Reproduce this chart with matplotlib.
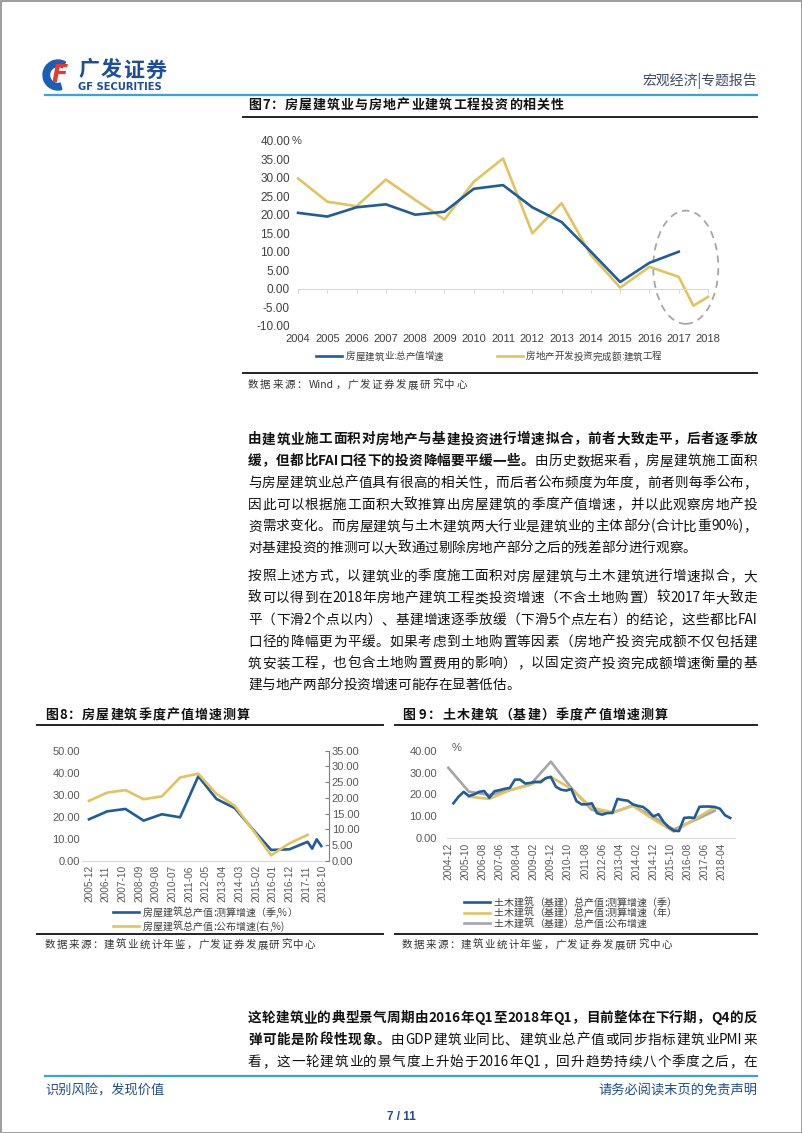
import matplotlib
matplotlib.use('Agg')
import matplotlib.pyplot as plt
from matplotlib.patches import Ellipse, Rectangle, Wedge
from matplotlib.font_manager import FontProperties, findfont, get_font

CJK = 'Noto Sans CJK SC'
LAT = 'Liberation Sans'
plt.rcParams['font.family'] = [LAT, CJK, 'DejaVu Sans']

W, H = 802, 1133
BLUE = '#1F5C99'
YEL = '#E3C35E'
GREY = '#A6A6A6'
TICK = '#595959'
LBLUE = '#3AA3DA'
DBLUE = '#1F4E8C'

# ---- fig 7: annual growth, %
years7 = [2004, 2005, 2006, 2007, 2008, 2009, 2010, 2011, 2012, 2013, 2014, 2015, 2016, 2017]
house_output7 = [20.5, 19.5, 22.0, 22.8, 20.0, 20.8, 27.0, 28.0, 22.0, 18.0, 10.0, 1.8, 7.0, 10.0]
re_years7 = [2004, 2005, 2006, 2007, 2008, 2009, 2010, 2011, 2012, 2013, 2014, 2015, 2016, 2017, 2017.5, 2018]
re_build7 = [29.8, 23.5, 22.3, 29.5, 24.0, 18.7, 28.9, 35.2, 15.0, 23.1, 9.1, 0.3, 5.9, 3.2, -4.6, -2.2]
xlabels7 = [2004, 2005, 2006, 2007, 2008, 2009, 2010, 2011, 2012, 2013, 2014, 2015, 2016, 2017, 2018]
legend7 = ['房屋建筑业:总产值增速', '房地产开发投资完成额:建筑工程']

# ---- fig 8: house building output
house_q_dates = ['2005-12', '2006-12', '2007-12', '2008-12', '2009-12', '2010-12', '2011-12', '2012-12',
                 '2013-12', '2014-12', '2015-12', '2016-12', '2017-12', '2018-03', '2018-06', '2018-09']
house_q = [18.9, 22.5, 23.6, 18.3, 21.2, 19.8, 38.4, 28.1, 24.0, 14.3, 5.0, 5.3, 8.7, 5.6, 9.8, 6.8]
house_pub_dates = ['2005-12', '2006-12', '2007-12', '2008-12', '2009-12', '2010-12', '2011-12', '2012-12',
                   '2013-12', '2014-12', '2015-12', '2016-12', '2017-12']
house_pub = [19.1, 21.7, 22.5, 19.6, 20.5, 26.5, 27.7, 21.3, 17.5, 9.8, 1.8, 5.6, 8.3]
xlabels8 = ['2005-12', '2006-11', '2007-10', '2008-09', '2009-08', '2010-07', '2011-06', '2012-05',
            '2013-04', '2014-03', '2015-02', '2016-01', '2016-12', '2017-11', '2018-10']
legend8 = ['房屋建筑总产值:测算增速（季,%）', '房屋建筑总产值:公布增速(右,%)']

# ---- fig 9: civil engineering output
civil_q_dates = [f'{y}-{m:02d}' for y in range(2005, 2019) for m in (3, 6, 9, 12)][:55]
civil_q = [16.0, 19.0, 21.2, 19.3, 20.0, 21.2, 21.6, 18.5, 21.5, 22.0, 22.6, 23.0,
           26.8, 26.8, 25.0, 25.3, 25.8, 25.6, 27.5, 28.0, 23.5, 22.2, 21.8, 22.5,
           17.0, 15.5, 15.5, 16.0, 11.5, 10.8, 11.5, 11.6, 18.0, 17.5, 17.2, 15.5,
           14.8, 14.3, 12.5, 10.0, 11.0, 7.5, 5.0, 3.5, 3.3, 9.3, 9.5, 9.3,
           14.4, 14.5, 14.5, 14.3, 13.5, 10.5, 9.3]
civil_y_dates = ['2005-12', '2006-12', '2007-12', '2008-12', '2009-12', '2010-12', '2011-12',
                 '2012-12', '2013-12', '2014-12', '2015-12', '2016-12', '2017-12']
civil_y = [19.0, 18.0, 22.0, 24.5, 28.1, 22.5, 14.0, 11.9, 14.8, 8.7, 3.0, 8.7, 14.1]
civil_pub_dates = ['2004-12', '2005-12', '2006-12', '2007-12', '2008-12', '2009-12', '2010-12',
                   '2011-12', '2012-12', '2013-12', '2014-12', '2015-12', '2016-12', '2017-12']
civil_pub = [32.2, 21.3, 19.8, 22.0, 24.5, 35.0, 23.0, 13.0, 11.6, 15.0, 9.8, 4.0, 8.2, 12.6]
xlabels9 = ['2004-12', '2005-10', '2006-08', '2007-06', '2008-04', '2009-02', '2009-12', '2010-10',
            '2011-08', '2012-06', '2013-04', '2014-02', '2014-12', '2015-10', '2016-08', '2017-06', '2018-04']
legend9 = ['土木建筑（基建）总产值:测算增速（季）', '土木建筑（基建）总产值:测算增速（年）',
           '土木建筑（基建）总产值:公布增速']

# ---- page text
B, R = 'bold', 'normal'
para1 = [
    [('由建筑业施工面积对房地产与基建投资进行增速拟合，前者大致走平，后者逐季放', B)],
    [('缓，但都比FAI口径下的投资降幅要平缓一些。', B), ('由历史数据来看，房屋建筑施工面积', R)],
    [('与房屋建筑业总产值具有很高的相关性，而后者公布频度为年度，前者则每季公布，', R)],
    [('因此可以根据施工面积大致推算出房屋建筑的季度产值增速，并以此观察房地产投', R)],
    [('资需求变化。而房屋建筑与土木建筑两大行业是建筑业的主体部分(合计比重90%)，', R)],
    [('对基建投资的推测可以大致通过剔除房地产部分之后的残差部分进行观察。', R)],
]
para2 = [
    [('按照上述方式，以建筑业的季度施工面积对房屋建筑与土木建筑进行增速拟合，大', R)],
    [('致可以得到在2018年房地产建筑工程类投资增速（不含土地购置）较2017年大致走', R)],
    [('平（下滑2个点以内）、基建增速逐季放缓（下滑5个点左右）的结论，这些都比FAI', R)],
    [('口径的降幅更为平缓。如果考虑到土地购置等因素（房地产投资完成额不仅包括建', R)],
    [('筑安装工程，也包含土地购置费用的影响），以固定资产投资完成额增速衡量的基', R)],
    [('建与地产两部分投资增速可能存在显著低估。', R)],
]
para3 = [
    [('这轮建筑业的典型景气周期由2016年Q1至2018年Q1，目前整体在下行期，Q4的反', B)],
    [('弹可能是阶段性现象。', B), ('由GDP建筑业同比、建筑业总产值或同步指标建筑业PMI来', R)],
    [('看，这一轮建筑业的景气度上升始于2016年Q1，回升趋势持续八个季度之后，在', R)],
]


def month_idx(dates, start):
    y0, m0 = map(int, start.split('-'))
    out = []
    for d in dates:
        y, m = map(int, d.split('-'))
        out.append((y - y0) * 12 + (m - m0))
    return out


fig = plt.figure(figsize=(W / 100, H / 100), dpi=100)
bg = fig.add_axes([0, 0, 1, 1])
bg.set_xlim(0, W)
bg.set_ylim(H, 0)
bg.axis('off')


def px_rect(l, t, r, b):
    return [l / W, 1 - b / H, (r - l) / W, (b - t) / H]


def advances(s, weight, size):
    font = get_font(findfont(FontProperties(family=CJK, weight=weight)))
    font.set_size(size * 0.72, 100)
    return [font.load_char(ord(c)).linearHoriAdvance / 65536 for c in s]


def put_line(segs, x0, yc, size, x1=None, color='#111111'):
    # group ascii runs into one token so latin words are not spread out
    toks = []
    for s, w in segs:
        for c, a in zip(s, advances(s, w, size)):
            if c.isascii() and toks and toks[-1][0][-1].isascii() and toks[-1][1] == w:
                toks[-1] = (toks[-1][0] + c, w, toks[-1][2] + a)
            else:
                toks.append((c, w, a))
    extra = 0.0
    if x1 is not None and len(toks) > 1:
        extra = (x1 - x0 - sum(t[2] for t in toks)) / (len(toks) - 1)
    x = x0
    for t, w, a in toks:
        if t.strip():
            bg.text(x, yc + 0.36 * size, t, fontsize=size * 0.72, fontweight=w, color=color,
                    family=[CJK, 'DejaVu Sans'], ha='left', va='baseline')
        x += a + extra


def put_para(lines, x0, x1, y0, step, size=13.6, last_full=False):
    for i, segs in enumerate(lines):
        full = last_full or i < len(lines) - 1
        put_line(segs, x0, y0 + i * step, size, x1 if full else None)


# page frame
bg.add_patch(Rectangle((0.5, 0.5), W - 1, H - 1, fill=False, ec='#8C8C8C', lw=1.2))

# header
bg.add_patch(Wedge((58, 75), 15, 75, 300, width=6.5, color='#1B5FB5'))
bg.text(60, 82, 'F', fontsize=17, fontweight='bold', style='italic', color='#E8392B',
        family='DejaVu Sans', ha='center', va='baseline')
put_line([('广发证券', B)], 78, 69, 21, 166, color='#1B4F9C')
bg.text(78, 90.5, 'GF SECURITIES', fontsize=7.2, fontweight='bold', color='#1B4F9C',
        family='DejaVu Sans', ha='left', va='baseline')
bg.text(757, 85, '宏观经济|专题报告', fontsize=10, color='#3C4A66', family=[CJK], ha='right', va='baseline')
bg.plot([45, 757], [95, 95], color=LBLUE, lw=1.6)

# figure 7 block
put_line([('图7：房屋建筑业与房地产业建筑工程投资的相关性', B)], 248, 104, 13, 564)
bg.plot([243, 757], [117, 117], color='#222222', lw=1.4)

ax7 = fig.add_axes(px_rect(295.1, 140.7, 713.9, 325.7))
ax7.patch.set_alpha(0)
ax7.plot(re_years7, re_build7, color=YEL, lw=1.9, zorder=2)
ax7.plot(years7, house_output7, color=BLUE, lw=1.9, zorder=3)
ax7.add_patch(Ellipse((2017.24, 5.8), 2.22, 30.6, fill=False, ls=(0, (4, 3)), ec=GREY, lw=1.3, clip_on=False))
ax7.set_xlim(2003.9, 2018.2)
ax7.set_ylim(-10, 40)
for s in ('top', 'right', 'left'):
    ax7.spines[s].set_visible(False)
ax7.spines['bottom'].set_position(('data', 0))
ax7.spines['bottom'].set_color('#D9D9D9')
ax7.spines['bottom'].set_bounds(2004, 2018)
ax7.set_xticks(xlabels7)
ax7.set_xticklabels([str(v) for v in xlabels7])
ax7.set_yticks(range(-10, 45, 5))
ax7.set_yticklabels([f'{v:.2f}' for v in range(-10, 45, 5)])
ax7.tick_params(axis='x', length=3, color='#D9D9D9', pad=29.5, labelsize=8, labelcolor='#404040')
ax7.tick_params(axis='y', length=0, pad=3.7, labelsize=8.5, labelcolor='#404040')
bg.text(292, 141, '%', fontsize=8, color='#404040', ha='left', va='center')

bg.plot([316, 342], [356, 356], color=BLUE, lw=1.9)
put_line([(legend7[0], R)], 346, 356, 9.5, color='#404040')
bg.plot([497, 523], [356, 356], color=YEL, lw=1.9)
put_line([(legend7[1], R)], 526, 356, 9.5, color='#404040')

bg.plot([243, 757], [373, 373], color='#222222', lw=1.4)
put_line([('数据来源：Wind，广发证券发展研究中心', R)], 248, 384, 10.5, 467, color='#333333')

# body text
put_para(para1, 248, 757, 438.5, 21.75)
put_para(para2, 248, 757, 575.5, 21.75)

# figure 8 block
put_line([('图8：房屋建筑季度产值增速测算', B)], 45, 714, 13, 250)
bg.plot([37, 383], [725, 725], color='#222222', lw=1.4)

ax8 = fig.add_axes(px_rect(82, 750.7, 329, 861))
ax8.patch.set_alpha(0)
ax8.plot(month_idx(house_q_dates, '2005-12'), house_q, color=BLUE, lw=1.9)
ax8.set_xlim(-4.6, 158.1)
ax8.set_ylim(0, 50)
ax8r = ax8.twinx()
ax8r.plot(month_idx(house_pub_dates, '2005-12'), house_pub, color=YEL, lw=1.9)
ax8r.set_ylim(0, 35)
for s in ('top', 'right', 'left'):
    ax8.spines[s].set_visible(False)
for s in ('top', 'left', 'bottom'):
    ax8r.spines[s].set_visible(False)
ax8.spines['bottom'].set_color('#D9D9D9')
ax8r.spines['right'].set_color('#7F7F7F')
ax8r.spines['right'].set_linewidth(0.8)
ax8.set_xticks(month_idx(xlabels8, '2005-12'))
ax8.set_xticklabels(xlabels8, rotation=90)
ax8.set_yticks(range(0, 60, 10))
ax8.set_yticklabels([f'{v:.2f}' for v in range(0, 60, 10)])
ax8r.set_yticks(range(0, 40, 5))
ax8r.set_yticklabels([f'{v:.2f}' for v in range(0, 40, 5)])
ax8.tick_params(axis='x', length=0, pad=3, labelsize=7.3, labelcolor=TICK)
ax8.tick_params(axis='y', length=0, pad=1.5, labelsize=8, labelcolor=TICK)
ax8r.tick_params(axis='y', direction='in', length=3, color='#7F7F7F', pad=2, labelsize=8, labelcolor=TICK)

bg.plot([113, 139], [912, 912], color=BLUE, lw=1.9)
put_line([(legend8[0], R)], 143, 912, 10, color='#404040')
bg.plot([113, 139], [926, 926], color=YEL, lw=1.9)
put_line([(legend8[1], R)], 143, 926, 10, color='#404040')
bg.plot([37, 383], [934, 934], color='#222222', lw=1.4)
put_line([('数据来源：建筑业统计年鉴，广发证券发展研究中心', R)], 45, 944, 10.5, 315, color='#333333')

# figure 9 block
put_line([('图 9：土木建筑（基建）季度产值增速测算', B)], 402, 714, 13, 668)
bg.plot([395, 757], [725, 725], color='#222222', lw=1.4)

ax9 = fig.add_axes(px_rect(446.7, 750.7, 735, 838.3))
ax9.patch.set_alpha(0)
ax9.plot(month_idx(civil_pub_dates, '2004-12'), civil_pub, color=GREY, lw=1.9)
ax9.plot(month_idx(civil_y_dates, '2004-12'), civil_y, color=YEL, lw=1.9)
ax9.plot(month_idx(civil_q_dates, '2004-12'), civil_q, color=BLUE, lw=1.9)
ax9.set_xlim(-0.94, 167.8)
ax9.set_ylim(0, 40)
for s in ('top', 'right', 'left'):
    ax9.spines[s].set_visible(False)
ax9.spines['bottom'].set_color('#D9D9D9')
ax9.set_xticks(month_idx(xlabels9, '2004-12'))
ax9.set_xticklabels(xlabels9, rotation=90)
ax9.set_yticks(range(0, 50, 10))
ax9.set_yticklabels([f'{v:.2f}' for v in range(0, 50, 10)])
ax9.tick_params(axis='x', length=0, pad=3, labelsize=7.3, labelcolor=TICK)
ax9.tick_params(axis='y', length=0, pad=7, labelsize=8, labelcolor=TICK)
bg.text(452, 748, '%', fontsize=8, color=TICK, ha='left', va='center')

for i, (lab, col) in enumerate(zip(legend9, [BLUE, YEL, GREY])):
    y = 902 + i * 10.5
    bg.plot([464, 490], [y, y], color=col, lw=1.9)
    put_line([(lab, R)], 494, y, 10, color='#404040')
bg.plot([395, 757], [934, 934], color='#222222', lw=1.4)
put_line([('数据来源：建筑业统计年鉴，广发证券发展研究中心', R)], 402, 944, 10.5, 672, color='#333333')

# closing paragraph
put_para(para3, 248, 757, 1017, 22, last_full=True)

# footer
bg.plot([45, 757], [1076, 1076], color=LBLUE, lw=1.6)
bg.text(45, 1095, '识别风险，发现价值', fontsize=9.5, color=DBLUE, family=[CJK], ha='left', va='baseline')
bg.text(757, 1095, '请务必阅读末页的免责声明', fontsize=9.5, color=DBLUE, family=[CJK], ha='right', va='baseline')
bg.text(401, 1120, '7 / 11', fontsize=8.5, fontweight='bold', color=DBLUE, ha='center', va='baseline')

fig.savefig('out.png', dpi=100)
